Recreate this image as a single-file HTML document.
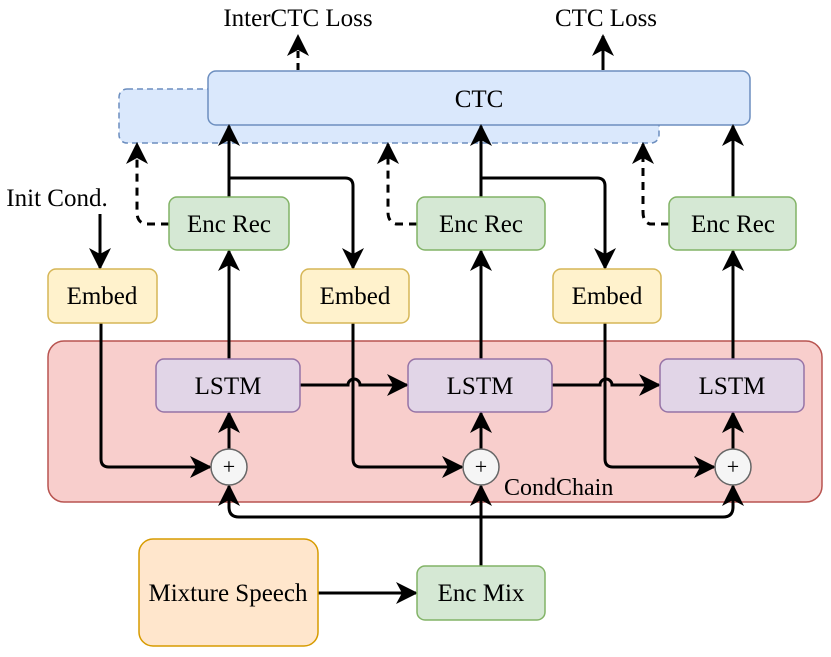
<!DOCTYPE html>
<html><head><meta charset="utf-8"><style>
html,body{margin:0;padding:0;background:#fff;}
svg{display:block;}
text{font-family:"Liberation Serif",serif;font-size:25px;fill:#000;}
</style></head><body>
<svg width="831" height="657" viewBox="0 0 831 657" xmlns="http://www.w3.org/2000/svg">
<defs>
<marker id="b" viewBox="0 0 22 22" refX="20" refY="11" markerWidth="22" markerHeight="22" markerUnits="userSpaceOnUse" orient="auto">
<path d="M0,0 L22,11 L0,22 L6,11 z" fill="#000"/>
</marker>
</defs>
<rect x="48" y="341" width="774" height="161" rx="16" fill="#f8cecc" stroke="#b85450" stroke-width="1.5"/>
<rect x="119" y="89" width="540" height="54" rx="8" fill="#dae8fc" stroke="#6c8ebf" stroke-width="1.5" stroke-dasharray="6,4"/>
<rect x="208" y="71" width="542" height="54" rx="8" fill="#dae8fc" stroke="#6c8ebf" stroke-width="1.5"/>
<text x="479" y="107" text-anchor="middle">CTC</text>
<text x="298" y="26" text-anchor="middle">InterCTC Loss</text>
<text x="606" y="26" text-anchor="middle">CTC Loss</text>
<text x="57" y="206" text-anchor="middle">Init Cond.</text>
<g stroke="#000" stroke-width="3" fill="none">
<line x1="298" y1="70" x2="298" y2="36" stroke-dasharray="7,5" marker-end="url(#b)"/>
<line x1="603" y1="70" x2="603" y2="36" marker-end="url(#b)"/>
<line x1="100" y1="214" x2="100" y2="268" marker-end="url(#b)"/>
<line x1="229" y1="197" x2="229" y2="126" marker-end="url(#b)"/>
<line x1="481" y1="197" x2="481" y2="126" marker-end="url(#b)"/>
<line x1="733" y1="197" x2="733" y2="126" marker-end="url(#b)"/>
<path d="M229,178 H345 Q353,178 353,186 V268" marker-end="url(#b)"/>
<path d="M481,178 H597 Q605,178 605,186 V268" marker-end="url(#b)"/>
<path d="M169,224 H145 Q137,222 137,212 V144" stroke-dasharray="8,6" marker-end="url(#b)"/>
<path d="M417,224 H396 Q388,222 388,212 V144" stroke-dasharray="8,6" marker-end="url(#b)"/>
<path d="M669,224 H650 Q643,222 643,212 V144" stroke-dasharray="8,6" marker-end="url(#b)"/>
<line x1="229" y1="359" x2="229" y2="251" marker-end="url(#b)"/>
<line x1="481" y1="359" x2="481" y2="251" marker-end="url(#b)"/>
<line x1="733" y1="359" x2="733" y2="251" marker-end="url(#b)"/>
<path d="M300,385 H348 A6,6 0 0 1 360,385 H407" marker-end="url(#b)"/>
<path d="M552,385 H600 A6,6 0 0 1 612,385 H659" marker-end="url(#b)"/>
<path d="M101,323 V459 Q101,467 109,467 H210" marker-end="url(#b)"/>
<path d="M353,323 V459 Q353,467 361,467 H462" marker-end="url(#b)"/>
<path d="M605,323 V459 Q605,467 613,467 H714" marker-end="url(#b)"/>
<line x1="229" y1="449" x2="229" y2="413" marker-end="url(#b)"/>
<line x1="481" y1="449" x2="481" y2="413" marker-end="url(#b)"/>
<line x1="733" y1="449" x2="733" y2="413" marker-end="url(#b)"/>
<line x1="481" y1="566" x2="481" y2="486" marker-end="url(#b)"/>
<path d="M481,517 H239 Q229,517 229,507 V486" marker-end="url(#b)"/>
<path d="M481,517 H723 Q733,517 733,507 V486" marker-end="url(#b)"/>
<line x1="318" y1="593" x2="416" y2="593" marker-end="url(#b)"/>
</g>
<g fill="#d5e8d4" stroke="#82b366" stroke-width="1.5">
<rect x="169" y="197" width="120" height="53" rx="8"/>
<rect x="417" y="197" width="128" height="53" rx="8"/>
<rect x="669" y="197" width="127" height="53" rx="8"/>
<rect x="417" y="566" width="128" height="54" rx="8"/>
</g>
<text x="229" y="232" text-anchor="middle">Enc Rec</text>
<text x="481" y="232" text-anchor="middle">Enc Rec</text>
<text x="733" y="232" text-anchor="middle">Enc Rec</text>
<text x="481" y="601" text-anchor="middle">Enc Mix</text>
<g fill="#fff2cc" stroke="#d6b656" stroke-width="1.5">
<rect x="48" y="269" width="109" height="54" rx="8"/>
<rect x="301" y="269" width="108" height="54" rx="8"/>
<rect x="553" y="269" width="108" height="54" rx="8"/>
</g>
<text x="102" y="304" text-anchor="middle">Embed</text>
<text x="355" y="304" text-anchor="middle">Embed</text>
<text x="607" y="304" text-anchor="middle">Embed</text>
<g fill="#e1d5e7" stroke="#9673a6" stroke-width="1.5">
<rect x="156" y="359" width="144" height="53" rx="8"/>
<rect x="408" y="359" width="144" height="53" rx="8"/>
<rect x="660" y="359" width="144" height="53" rx="8"/>
</g>
<text x="228" y="394" text-anchor="middle">LSTM</text>
<text x="480" y="394" text-anchor="middle">LSTM</text>
<text x="732" y="394" text-anchor="middle">LSTM</text>
<g fill="#f5f5f5" stroke="#666" stroke-width="1.5">
<circle cx="229" cy="467" r="18"/>
<circle cx="481" cy="467" r="18"/>
<circle cx="733" cy="467" r="18"/>
</g>
<text x="229" y="474" text-anchor="middle" style="font-size:22px">+</text>
<text x="481" y="474" text-anchor="middle" style="font-size:22px">+</text>
<text x="733" y="474" text-anchor="middle" style="font-size:22px">+</text>
<text x="504" y="495" style="font-size:24px">CondChain</text>
<rect x="139" y="539" width="179" height="107" rx="14" fill="#ffe6cc" stroke="#d79b00" stroke-width="1.5"/>
<text x="228" y="601" text-anchor="middle">Mixture Speech</text>
</svg>
</body></html>
